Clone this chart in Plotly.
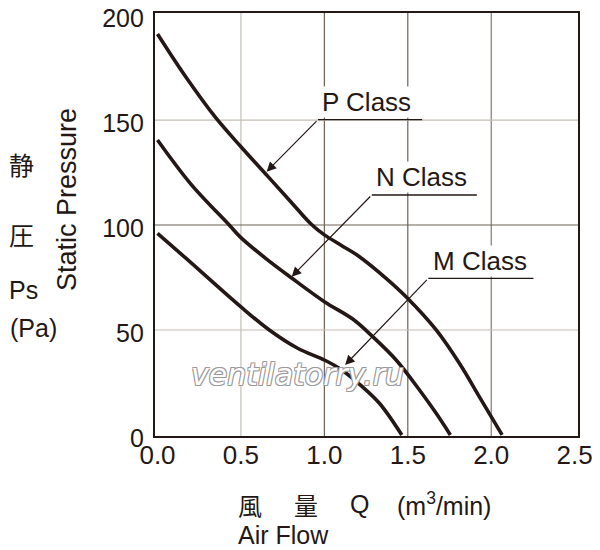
import plotly.graph_objects as go

# ---- data ----
p_q = [0.0, 0.17, 0.35, 0.5, 0.66, 0.8, 0.92, 1.0, 1.1, 1.2, 1.37, 1.5, 1.67, 1.81, 1.93, 2.065]
p_ps = [191, 170.5, 151, 137.3, 123.3, 111, 100.5, 95.3, 90.4, 85.5, 74.6, 65, 50, 34, 18, 0]

n_q = [0.0, 0.2, 0.43, 0.5, 0.65, 0.8, 1.0, 1.17, 1.29, 1.43, 1.57, 1.67, 1.755]
n_ps = [140.5, 119.5, 100, 94, 84, 75, 63.5, 55.2, 46.8, 35.7, 21.4, 10.3, 0]

m_q = [0.0, 0.18, 0.5, 0.67, 0.84, 1.0, 1.1, 1.22, 1.33, 1.464]
m_ps = [96, 83.5, 61, 50, 41.3, 35.7, 31.2, 23.5, 15.1, 0]

x_ticks = [0.0, 0.5, 1.0, 1.5, 2.0, 2.5]
x_tick_labels = ["0.0", "0.5", "1.0", "1.5", "2.0", "2.5"]
y_ticks = [0, 50, 100, 150, 200]
y_tick_labels = ["0", "50", "100", "150", "200"]

# labels: name, underline start x, underline y, underline end x, arrow tip (x, y)
class_labels = [
    ("P Class", 0.962, 150.2, 1.586, 0.654, 125.4),
    ("N Class", 1.284, 114.3, 1.914, 0.804, 75.4),
    ("M Class", 1.623, 74.6, 2.253, 1.124, 33.3),
]

INK = "#231815"
GRID_LIGHT = "#c4beb6"
GRID_DARK = "#6e6256"

fig = go.Figure()
for q, ps, name in [(p_q, p_ps, "P"), (n_q, n_ps, "N"), (m_q, m_ps, "M")]:
    fig.add_trace(go.Scatter(x=q, y=ps, mode="lines", name=name,
                             line=dict(color=INK, width=3.6, shape="spline", smoothing=1.0),
                             showlegend=False, hoverinfo="skip"))

shapes = []
grid_x_style = {0.5: GRID_LIGHT, 1.0: GRID_DARK, 1.5: GRID_DARK, 2.0: "#85796d"}
for xv, col in grid_x_style.items():
    shapes.append(dict(type="line", xref="x", yref="y", x0=xv, x1=xv, y0=-0.5, y1=201,
                       line=dict(color=col, width=1.2), layer="below"))
grid_y_style = {50: GRID_LIGHT, 100: GRID_DARK, 150: GRID_LIGHT}
for yv, col in grid_y_style.items():
    shapes.append(dict(type="line", xref="x", yref="y", x0=-0.015, x1=2.52, y0=yv, y1=yv,
                       line=dict(color=col, width=1.2), layer="below"))

annotations = []
for text, xl, yu, xr, tx, ty in class_labels:
    annotations.append(dict(x=xl + 0.02, y=yu + 0.8, xref="x", yref="y", text=text,
                            showarrow=False, xanchor="left", yanchor="bottom",
                            bgcolor="white", borderpad=0,
                            font=dict(family="Liberation Sans", size=26, color=INK)))
    shapes.append(dict(type="line", xref="x", yref="y", x0=xl, x1=xr, y0=yu, y1=yu,
                       line=dict(color=INK, width=1.3)))
    annotations.append(dict(x=tx, y=ty, xref="x", yref="y", ax=xl, ay=yu,
                            axref="x", ayref="y", text="", showarrow=True,
                            arrowhead=2, arrowsize=1.6, arrowwidth=1.2, arrowcolor=INK,
                            standoff=0))

# the page body adds an 8px offset; the figure is drawn 8px smaller to compensate
OFF = 8
W, H = 600 - OFF, 550 - OFF
L, R, T, B = 155, 578, 13, 436   # frame edges in the reference's pixels
def px(xp):
    return (xp - L) / (R - L)
def py(yp):
    return (B - yp) / (B - T)

def txt(s, xp, yp, size=24, anchor="center", angle=0, family="Liberation Sans"):
    annotations.append(dict(x=px(xp), y=py(yp), xref="paper", yref="paper", text=s,
                            showarrow=False, xanchor=anchor, yanchor="middle",
                            textangle=angle,
                            font=dict(family=family, size=size, color=INK)))

CJK = "Noto Sans CJK JP"
txt("静", 21, 164, 25, family=CJK)
txt("圧", 21, 234, 25, family=CJK)
txt("Ps", 23, 290, 25)
txt("(Pa)", 8, 328, 25, anchor="left")
txt("Static Pressure", 67, 200, 27, angle=-90)
txt("風", 250, 504, 24, family=CJK)
txt("量", 306, 504, 24, family=CJK)
txt("Q", 359, 504, 25)
txt("(m<sup>3</sup>/min)", 395, 504, 25, anchor="left")
txt("Air Flow", 236, 535, 25, anchor="left")

# watermark
annotations.append(dict(x=0.837, y=29, xref="x", yref="y", text="ventilatorry.ru",
                        showarrow=False,
                        font=dict(family="DejaVu Sans", size=30, color="white", style="italic",
                                  shadow="1px 1px 0 #9a9a9a, -1px -1px 0 #9a9a9a, 1px -1px 0 #9a9a9a, -1px 1px 0 #9a9a9a")))

fig.update_layout(
    width=W, height=H,
    margin=dict(l=L - OFF, r=W - (R - OFF), t=T - OFF, b=H - (B - OFF), autoexpand=False),
    paper_bgcolor="white", plot_bgcolor="white",
    shapes=shapes, annotations=annotations,
    xaxis=dict(range=[-0.015, 2.52], tickvals=x_ticks, ticktext=x_tick_labels,
               showgrid=False, zeroline=False, showline=True, mirror=True, automargin=False,
               linecolor=INK, linewidth=2.2, ticks="", ticklabelstandoff=-5,
               ticklabeloverflow="allow",
               tickfont=dict(family="Liberation Sans", size=26, color=INK)),
    yaxis=dict(range=[-0.5, 201], tickvals=y_ticks, ticktext=y_tick_labels,
               showgrid=False, zeroline=False, showline=True, mirror=True, automargin=False,
               linecolor=INK, linewidth=2.2, ticks="", ticklabelstandoff=4,
               ticklabelshift=3, ticklabeloverflow="allow",
               tickfont=dict(family="Liberation Sans", size=25, color=INK)),
)

fig.write_html("out.html")
